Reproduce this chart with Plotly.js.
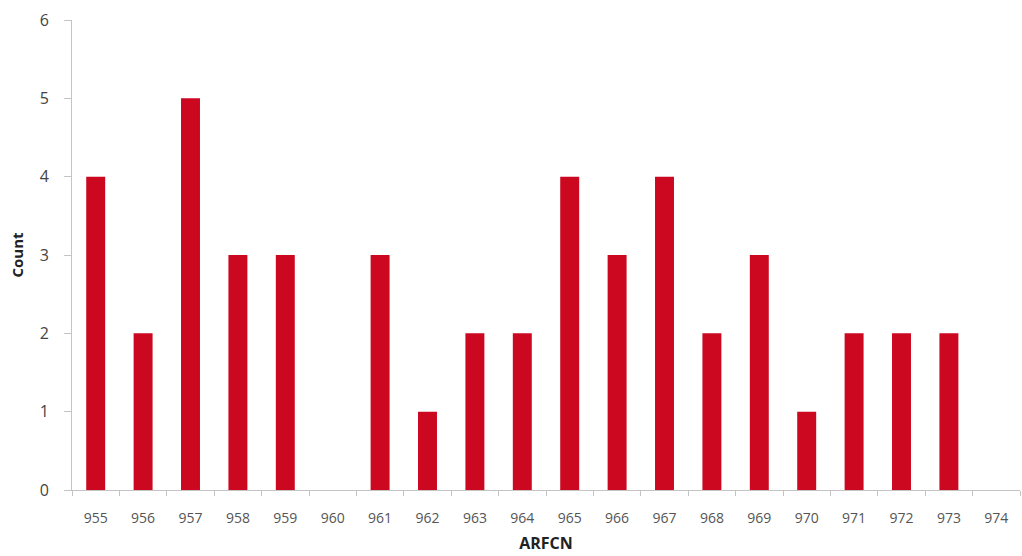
<!DOCTYPE html>
<html>
<head>
<meta charset="utf-8">
<script src="https://cdn.plot.ly/plotly-3.0.1.min.js"></script>
<style>html,body{margin:0;padding:0;background:#fff}#chart{width:1022px;height:556px}</style>
</head>
<body>
<div id="chart"></div>
<script>
const categories = ["955","956","957","958","959","960","961","962","963","964","965","966","967","968","969","970","971","972","973","974"];
const counts = [4,2,5,3,3,0,3,1,2,2,4,3,4,2,3,1,2,2,2,0];
const yTicks = [0,1,2,3,4,5,6];

const trace = {
  type: 'bar',
  x: categories,
  y: counts,
  marker: {color: '#CC0720'},
  hoverinfo: 'x+y'
};

const layout = {
  width: 1022, height: 556,
  margin: {l: 72, r: 2, t: 20, b: 66},
  paper_bgcolor: '#fff', plot_bgcolor: '#fff',
  bargap: 0.6,
  showlegend: false,
  font: {family: '"Open Sans", Lato, sans-serif', color: '#555'},
  xaxis: {
    type: 'category',
    showgrid: false,
    showline: true, linecolor: '#c4c4c4', linewidth: 1,
    ticks: 'outside', tickson: 'boundaries', ticklen: 5, tickcolor: '#c4c4c4',
    ticklabelstandoff: 15,
    tickfont: {size: 14, color: '#555'},
    title: {text: '<b>ARFCN</b>', font: {size: 16, color: '#222'}, standoff: 12},
    zeroline: false
  },
  yaxis: {
    range: [0, 6],
    tickvals: yTicks,
    showgrid: false,
    showline: true, linecolor: '#c4c4c4', linewidth: 1,
    ticks: 'outside', ticklen: 7, tickcolor: '#c4c4c4',
    ticklabelstandoff: 12,
    tickfont: {size: 16, color: '#444'},
    title: {text: '<b>Count</b>', font: {size: 15, color: '#222'}, standoff: 12},
    zeroline: false
  }
};

Plotly.newPlot('chart', [trace], layout, {displayModeBar: false, staticPlot: true});
</script>
</body>
</html>
